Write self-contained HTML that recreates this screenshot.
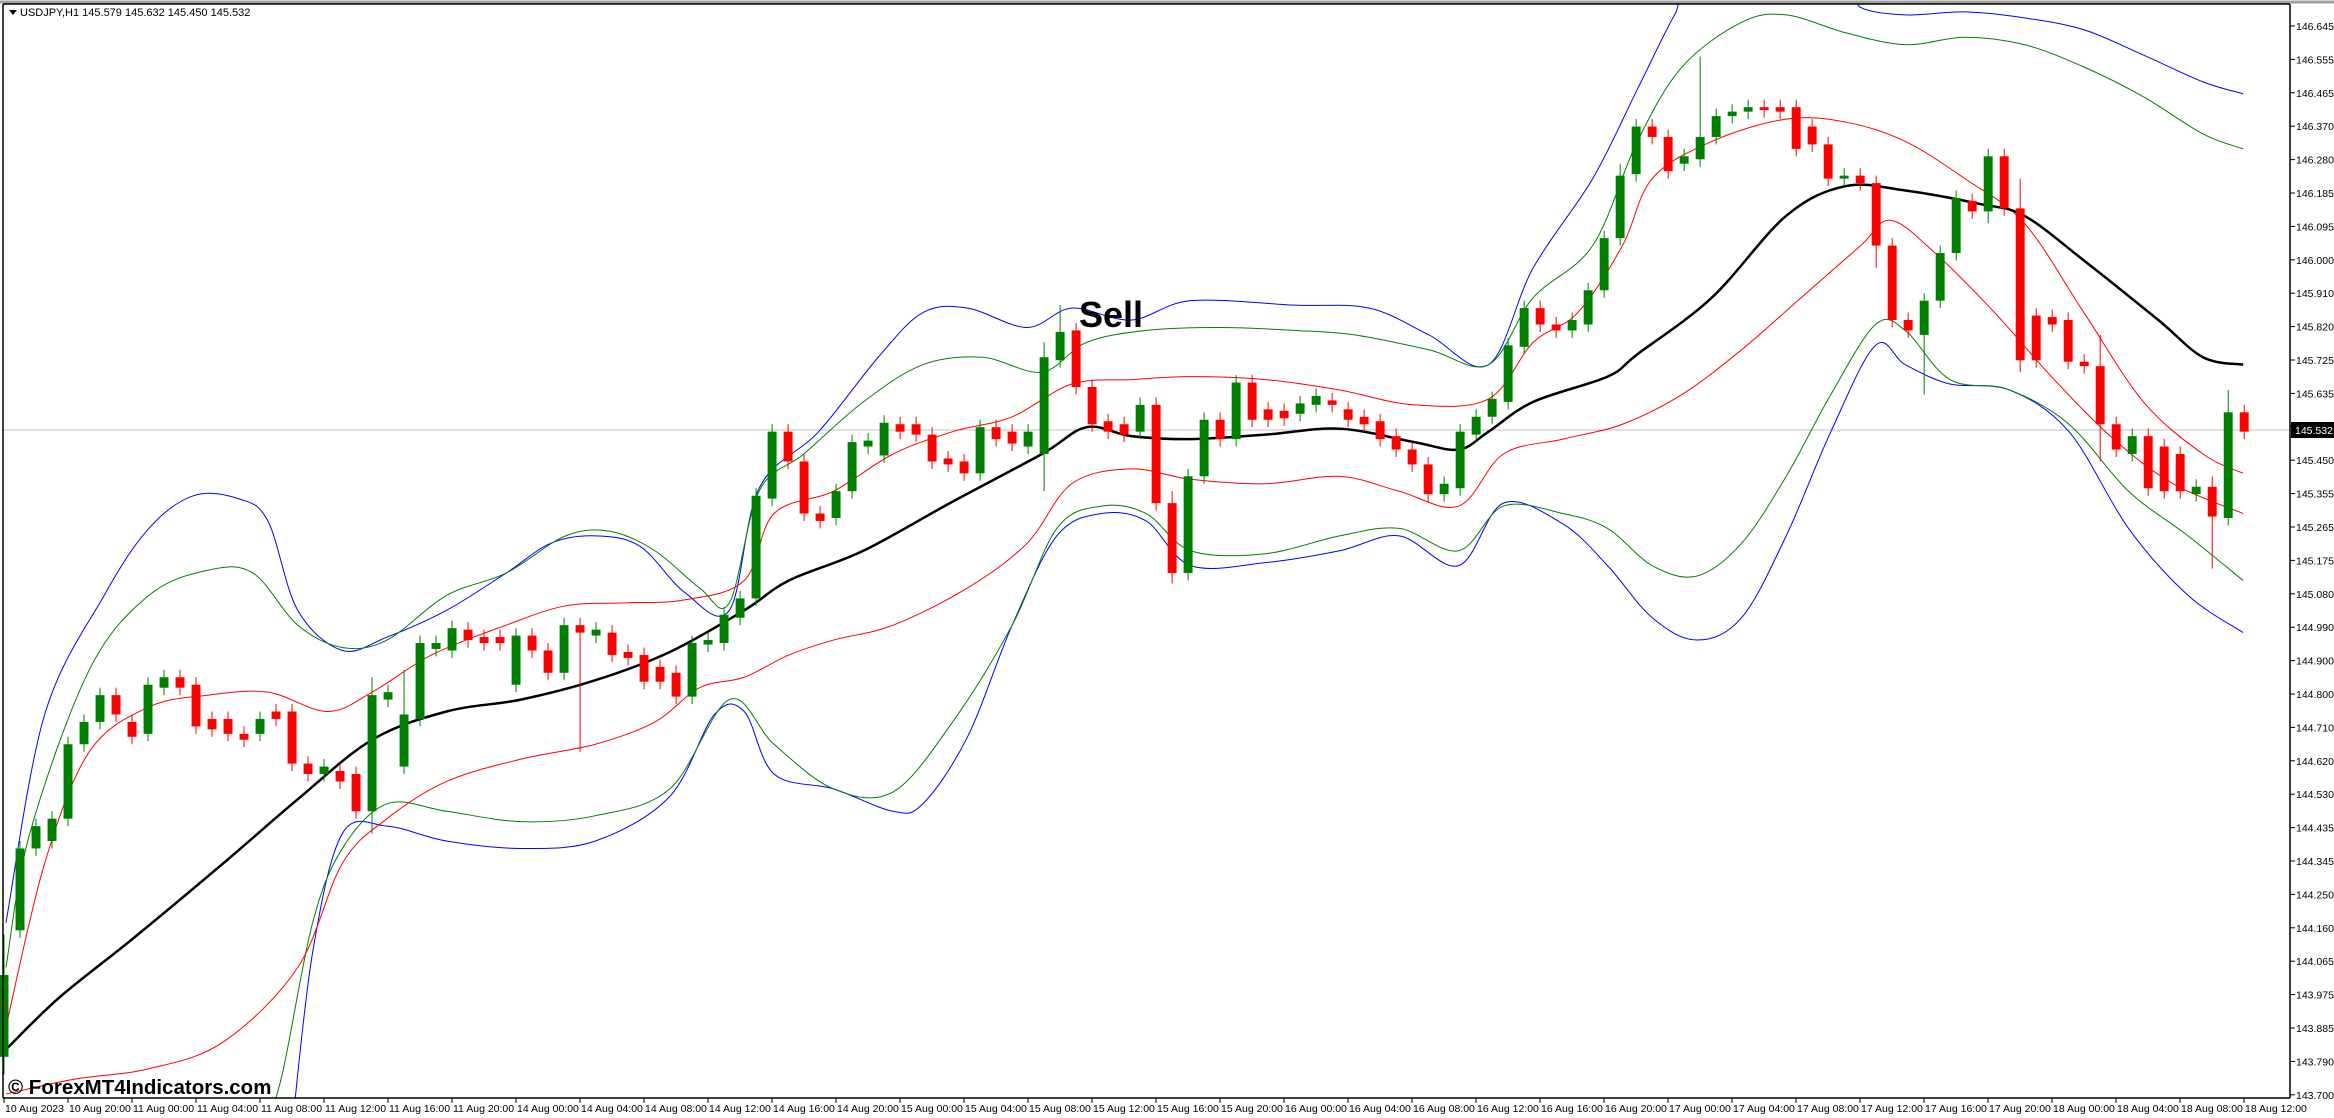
<!DOCTYPE html>
<html><head><meta charset="utf-8">
<style>
html,body{margin:0;padding:0;background:#fff;}
svg{display:block;}
text{font-family:"Liberation Sans",sans-serif;}
</style></head>
<body>
<svg id="s" width="2334" height="1118" viewBox="0 0 2334 1118" xmlns="http://www.w3.org/2000/svg">
<rect x="0" y="0" width="2334" height="1118" fill="#fff"/>
<line x1="0" y1="2" x2="2334" y2="2" stroke="#a0a0a0" stroke-width="3"/>
<line x1="3" y1="430" x2="2290" y2="430" stroke="#c0c0c0" stroke-width="1"/>
<g id="d" transform="scale(1.4885)"></g>
<rect x="0" y="1099" width="2334" height="19" fill="#fff"/>
<rect x="2291" y="4" width="43" height="1114" fill="#fff"/>
<rect x="0" y="0" width="2334" height="4" fill="#fff"/>
<line x1="0" y1="2" x2="2334" y2="2" stroke="#a0a0a0" stroke-width="3"/>
<line x1="3" y1="4" x2="3" y2="1098" stroke="#000" stroke-width="1.5"/>
<line x1="3" y1="4" x2="2290" y2="4" stroke="#000" stroke-width="1.5"/>
<line x1="2290" y1="4" x2="2290" y2="1098" stroke="#000" stroke-width="1.5"/>
<line x1="3" y1="1098" x2="2290" y2="1098" stroke="#000" stroke-width="1.5"/>
<g id="ax"></g>
<text x="1079" y="327" font-size="36" font-weight="bold" fill="#000">Sell</text>
<text x="8" y="1094" font-size="20.5" font-weight="bold" fill="#000">© ForexMT4Indicators.com</text>
<polygon points="9,10 17,10 13,15" fill="#000"/>
<text x="20" y="16" font-size="11" fill="#000">USDJPY,H1  145.579 145.632 145.450 145.532</text>
<rect x="2291" y="422" width="43" height="16" fill="#000"/>
<text x="2295" y="434" font-size="10.5" fill="#fff">145.532</text>
</svg>
<script>
var NS="http://www.w3.org/2000/svg",d=document.getElementById('d'),ax=document.getElementById('ax');
function el(p,t,a){var e=document.createElementNS(NS,t);for(var k in a)e.setAttribute(k,a[k]);p.appendChild(e);return e;}
function line(p,c,w){var s='M'+p[0][0]+','+p[0][1];
for(var i=0;i<p.length-1;i++){var p0=p[i-1]||p[i],p1=p[i],p2=p[i+1],p3=p[i+2]||p2;
var c1x=p1[0]+(p2[0]-p0[0])/6,c1y=p1[1]+(p2[1]-p0[1])/6,c2x=p2[0]-(p3[0]-p1[0])/6,c2y=p2[1]-(p3[1]-p1[1])/6;
s+=' C'+c1x+','+c1y+' '+c2x+','+c2y+' '+p2[0]+','+p2[1];}
el(d,'path',{d:s,fill:'none',stroke:c,'stroke-width':w,'vector-effect':'non-scaling-stroke','stroke-linejoin':'round'});}
var ma=[[4,705],[40,670],[90,630],[150,580],[200,537],[250,497],[300,478],[350,470],[400,457],[450,438],[500,410],[530,390],[580,370],[640,337],[700,305],[730,287],[760,293],[800,295],[850,292],[900,288],[950,297],[980,302],[1000,290],[1030,270],[1080,253],[1100,238],[1150,200],[1200,145],[1240,125],[1280,128],[1330,137],[1360,145],[1400,175],[1450,215],[1480,240],[1507,245]];
var ru=[[4,690],[30,580],[60,505],[100,475],[140,467],[180,465],[220,478],[250,465],[290,440],[340,420],[380,407],[420,405],[460,403],[500,390],[520,345],[560,330],[600,305],[640,290],[680,280],[720,258],[760,255],[800,253],[850,255],[900,262],[950,272],[1000,268],[1030,230],[1060,210],[1090,165],[1110,120],[1150,95],[1200,80],[1240,82],[1280,95],[1320,120],[1360,150],[1400,210],[1440,270],[1480,305],[1507,318]];
var rl=[[4,735],[50,725],[100,718],[150,700],[200,650],[230,580],[260,550],[300,525],[350,510],[400,500],[440,485],[470,462],[500,455],[530,440],[560,430],[600,420],[650,395],[690,365],[720,325],[760,315],[800,322],[850,325],[900,320],[940,330],[980,340],[1010,305],[1050,295],[1090,285],[1130,265],[1170,235],[1210,200],[1250,165],[1270,148],[1300,170],[1340,210],[1380,255],[1420,295],[1460,325],[1507,345]];
var gu=[[4,650],[20,560],[60,450],[100,400],[140,383],[170,385],[200,420],[230,435],[260,430],[300,400],[340,385],[380,360],[410,357],[440,370],[470,395],[490,405],[510,330],[540,305],[580,270],[620,245],[660,240],[700,250],[730,230],[770,222],[820,220],[870,222],[910,225],[960,235],[1000,245],[1030,200],[1070,165],[1100,95],[1130,45],[1170,15],[1200,10],[1240,22],[1280,30],[1320,25],[1360,30],[1400,45],[1440,65],[1480,90],[1507,100]];
var gl=[[178,760],[190,720],[210,620],[230,570],[260,540],[300,545],[350,552],[400,548],[450,530],[490,470],[520,500],[560,530],[600,532],[640,485],[680,420],[710,355],[740,340],[770,345],[800,370],[850,372],[900,360],[940,355],[980,370],[1010,340],[1050,345],[1080,355],[1110,380],[1140,387],[1170,365],[1200,320],[1230,265],[1260,218],[1280,222],[1310,255],[1350,262],[1390,285],[1430,330],[1470,360],[1507,390]];
var bu=[[4,620],[30,480],[70,400],[100,355],[130,333],[160,335],[180,350],[200,410],[230,437],[260,428],[300,410],[340,385],[370,365],[400,360],[430,367],[460,398],[490,410],[510,328],[550,290],[590,240],[620,210],[650,207],[690,220],[720,207],[760,215],[800,202],[870,205],[920,207],[960,225],[1000,245],[1030,180],[1070,120],[1100,60],[1125,10],[1140,-10],[1240,-10],[1250,5],[1280,10],[1320,8],[1360,12],[1400,20],[1440,37],[1480,55],[1507,63]];
var bl=[[196,760],[210,640],[230,560],[260,555],[300,565],[350,570],[400,565],[450,535],[480,480],[500,478],[520,520],[560,530],[600,545],[620,540],[650,495],[680,420],[710,360],[740,345],[770,350],[800,380],[850,378],[900,370],[940,360],[980,380],[1010,338],[1050,352],[1080,380],[1110,415],[1140,430],[1170,415],[1200,360],[1230,290],[1260,232],[1280,245],[1310,258],[1350,262],[1390,290],[1430,355],[1470,400],[1507,425]];
line(bu,'#0000ff',1);line(bl,'#0000ff',1);line(gu,'#008000',1);line(gl,'#008000',1);line(ru,'#ff0000',1);line(rl,'#ff0000',1);line(ma,'#000',2.5);
var c=[[655,710,1],[570,625,1],[555,570,1],[550,565,1],[500,550,1],[485,500,1],[467,485,1],[467,480,0],[485,495,0],[460,493,1],[455,462,1],[455,462,0],[460,488,0],[483,490,0],[483,493,0],[493,497,0],[483,493,1],[478,483,0],[478,513,0],[513,520,0],[515,520,1],[518,525,0],[520,545,0],[467,545,1],[465,470,1],[480,515,1],[432,483,1],[432,436,1],[422,437,1],[423,430,0],[428,432,0],[428,432,0],[427,460,1],[427,437,0],[437,452,0],[420,452,1],[420,425,0],[423,427,1],[425,440,0],[438,442,0],[440,458,0],[448,458,0],[452,468,0],[432,468,1],[430,433,1],[413,432,1],[402,415,1],[333,402,1],[290,335,1],[290,310,0],[310,345,0],[345,350,0],[330,348,1],[297,330,1],[296,300,1],[284,306,1],[285,290,0],[285,292,0],[292,310,0],[308,312,0],[310,318,0],[287,318,1],[287,295,0],[290,298,0],[290,300,1],[240,305,1],[223,242,1],[222,260,0],[260,285,0],[283,290,0],[285,292,0],[272,290,1],[272,338,0],[338,385,0],[320,385,1],[282,320,1],[282,295,0],[257,295,1],[257,282,0],[275,282,0],[276,281,0],[271,278,1],[266,272,1],[269,272,0],[275,282,0],[280,285,0],[283,295,0],[293,302,0],[302,312,0],[312,332,0],[325,332,1],[290,328,1],[280,292,1],[268,280,1],[232,270,1],[207,233,1],[207,218,0],[218,222,0],[215,222,1],[195,218,1],[160,195,1],[118,160,1],[85,117,1],[85,92,0],[92,115,0],[105,110,1],[92,107,1],[78,92,1],[75,78,1],[72,75,1],[72,74,0],[72,75,0],[72,100,0],[85,97,0],[97,120,0],[118,120,1],[118,123,0],[123,165,0],[165,215,0],[215,222,0],[202,225,1],[170,202,1],[133,170,1],[135,142,0],[105,142,1],[105,140,0],[140,242,0],[212,242,0],[213,218,0],[215,243,0],[243,246,0],[246,285,0],[285,302,0],[293,305,1],[293,328,0],[300,330,0],[305,330,0],[327,332,1],[327,347,0],[277,348,1],[277,290,0]];
var big={0:[628,722],23:[455,560],25:[450,520],36:[415,505],65:[230,330],66:[205,245],73:[330,392],74:[315,390],101:[110,165],106:[38,110],117:[118,180],120:[200,265],124:[100,150],126:[120,250],131:[225,310],138:[320,382],139:[262,350]};
for(var i=0;i<c.length;i++){var x=2.7+10.75*i,a=Math.min(c[i][0],c[i][1]),b=Math.max(c[i][0],c[i][1]),col=c[i][2]?'#008000':'#ff0000';
var hi=a-5,lo=b+5;if(big[i]){hi=Math.min(hi,big[i][0]);lo=Math.max(lo,big[i][1]);}
el(d,'line',{x1:x,y1:hi,x2:x,y2:lo,stroke:col,'stroke-width':1,'vector-effect':'non-scaling-stroke'});
el(d,'rect',{x:x-3,y:a,width:6,height:Math.max(b-a,1),fill:col});}
var pv=["146.645","146.555","146.465","146.370","146.280","146.185","146.095","146.000","145.910","145.820","145.725","145.635","145.545","145.450","145.355","145.265","145.175","145.080","144.990","144.900","144.800","144.710","144.620","144.530","144.435","144.345","144.250","144.160","144.065","143.975","143.885","143.790","143.700"];
for(var k=0;k<pv.length;k++){var y=26+k*33.4;el(ax,'line',{x1:2290,y1:y,x2:2295,y2:y,stroke:'#000','stroke-width':1});var t=el(ax,'text',{x:2296,y:y+4,'font-size':'10.5',fill:'#000'});t.textContent=pv[k];}
var tl=["10 Aug 2023","10 Aug 20:00"],days=["11 Aug","14 Aug","15 Aug","16 Aug","17 Aug","18 Aug"],hrs=["00:00","04:00","08:00","12:00","16:00","20:00"];
for(var j=0;j<days.length;j++)for(var h=0;h<6;h++){if(j==5&&h>3)break;tl.push(days[j]+" "+hrs[h]);}
for(var k=0;k<tl.length;k++){var x=4+64*k;el(ax,'line',{x1:x,y1:1098,x2:x,y2:1103,stroke:'#000','stroke-width':1});var t=el(ax,'text',{x:x+1,y:1112,'font-size':'10.5',fill:'#000'});t.textContent=tl[k];}
</script>
</body></html>
